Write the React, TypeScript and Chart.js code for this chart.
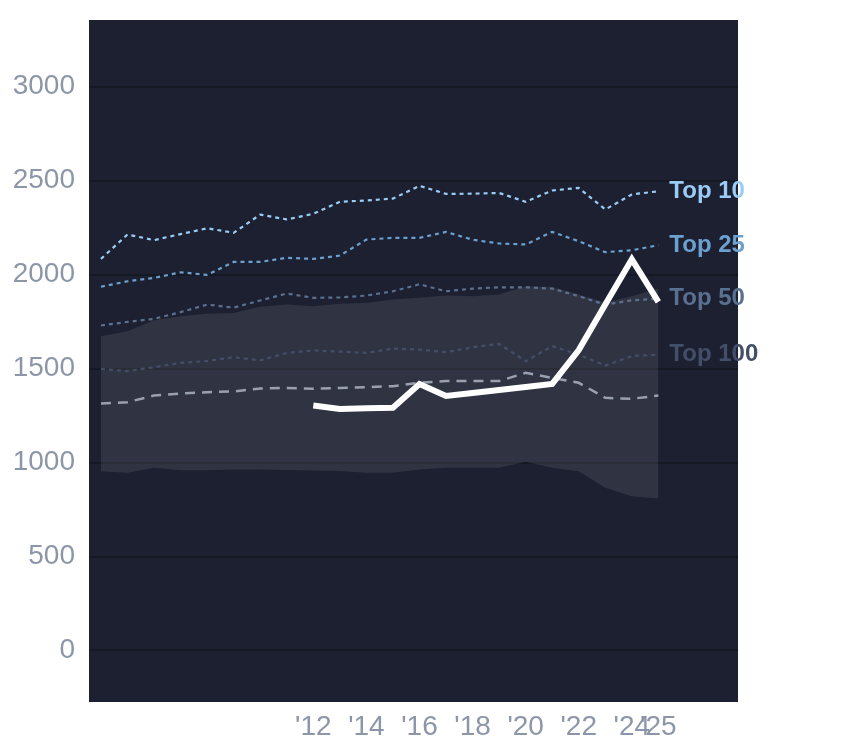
import { useEffect, useRef } from "react";
import { Chart, registerables } from "chart.js";

Chart.register(...registerables);

const years = [2004, 2005, 2006, 2007, 2008, 2009, 2010, 2011, 2012, 2013, 2014, 2015, 2016, 2017, 2018, 2019, 2020, 2021, 2022, 2023, 2024, 2025];
const top10 = [2083, 2213, 2183, 2215, 2246, 2222, 2319, 2293, 2323, 2387, 2394, 2404, 2472, 2429, 2430, 2434, 2387, 2447, 2461, 2346, 2426, 2443];
const top25 = [1935, 1964, 1982, 2012, 1998, 2067, 2067, 2089, 2083, 2101, 2186, 2195, 2195, 2227, 2185, 2165, 2160, 2227, 2177, 2119, 2129, 2156];
const top50 = [1729, 1748, 1764, 1800, 1840, 1824, 1862, 1899, 1876, 1878, 1888, 1911, 1948, 1911, 1925, 1932, 1932, 1925, 1885, 1840, 1863, 1871];
const top100 = [1498, 1486, 1507, 1530, 1540, 1560, 1543, 1583, 1596, 1590, 1583, 1606, 1601, 1587, 1613, 1631, 1539, 1619, 1574, 1516, 1566, 1574];
const median = [1314, 1321, 1356, 1367, 1374, 1378, 1394, 1397, 1392, 1397, 1401, 1406, 1425, 1433, 1433, 1433, 1477, 1450, 1424, 1344, 1339, 1356];
const bandLow = [954, 945, 972, 959, 959, 963, 963, 960, 958, 955, 945, 945, 963, 972, 972, 972, 1004, 972, 954, 866, 821, 809];
const bandHigh = [1672, 1698, 1757, 1778, 1791, 1796, 1828, 1840, 1831, 1845, 1848, 1867, 1876, 1888, 1884, 1894, 1938, 1934, 1894, 1851, 1885, 1926];

const currentYears = [2012, 2013, 2014, 2015, 2016, 2017, 2018, 2019, 2020, 2021, 2022, 2023, 2024, 2025];
const current = [1303, 1285, 1288, 1291, 1418, 1354, 1370, 1386, 1402, 1418, 1598, 1840, 2081, 1855];

const xTicks = [2012, 2014, 2016, 2018, 2020, 2022, 2024, 2025];
const yTicks = [0, 500, 1000, 1500, 2000, 2500, 3000];

const tierLabels = ["Top 10", "Top 25", "Top 50", "Top 100"];
const tierColors = ["#9acdf6", "#6ca0cf", "#5a7090", "#434e68"];

const FONT = "'Liberation Sans', Arial, sans-serif";
const PLOT_BG = "#1c2030";
const TICK_COLOR = "#8d96a8";

const pts = (xs: number[], ys: number[]) => xs.map((x, i) => ({ x, y: ys[i] }));

const plotBg = {
  id: "plotBg",
  beforeDraw(chart: Chart) {
    const { ctx, chartArea } = chart;
    ctx.save();
    ctx.fillStyle = PLOT_BG;
    ctx.fillRect(chartArea.left, chartArea.top, chartArea.right - chartArea.left, chartArea.bottom - chartArea.top);
    ctx.restore();
  },
};

// tier names next to the last point of each line
const endLabels = {
  id: "endLabels",
  afterDatasetsDraw(chart: Chart) {
    const { ctx } = chart;
    const xs = chart.scales.x;
    const ys = chart.scales.y;
    const series = [top10, top25, top50, top100];
    ctx.save();
    ctx.font = `bold 24px ${FONT}`;
    ctx.textAlign = "left";
    ctx.textBaseline = "middle";
    series.forEach((s, i) => {
      const x = xs.getPixelForValue(years[years.length - 1]) + 11;
      const y = ys.getPixelForValue(s[s.length - 1]);
      ctx.fillStyle = tierColors[i];
      ctx.fillText(tierLabels[i], x, y);
    });
    ctx.restore();
  },
};

export default function App() {
  const canvasRef = useRef<HTMLCanvasElement | null>(null);

  useEffect(() => {
    const canvas = canvasRef.current;
    if (!canvas) return;

    const dotted = (label: string, data: number[], color: string) => ({
      label,
      data: pts(years, data),
      borderColor: color,
      borderWidth: 2.2,
      borderDash: [4, 4],
      pointRadius: 0,
      fill: false,
      tension: 0,
    });

    const chart = new Chart(canvas, {
      type: "line",
      data: {
        datasets: [
          {
            label: "Current",
            data: pts(currentYears, current),
            borderColor: "#ffffff",
            borderWidth: 6,
            pointRadius: 0,
            fill: false,
          },
          {
            label: "Median",
            data: pts(years, median),
            borderColor: "#9aa1ae",
            borderWidth: 2.5,
            borderDash: [10, 7],
            pointRadius: 0,
            fill: false,
          },
          dotted("Top 10", top10, tierColors[0]),
          dotted("Top 25", top25, tierColors[1]),
          dotted("Top 50", top50, tierColors[2]),
          dotted("Top 100", top100, tierColors[3]),
          {
            label: "Low",
            data: pts(years, bandLow),
            borderWidth: 0,
            pointRadius: 0,
            fill: false,
          },
          {
            label: "High",
            data: pts(years, bandHigh),
            borderWidth: 0,
            pointRadius: 0,
            fill: "-1",
            backgroundColor: "rgba(255,255,255,0.09)",
          },
        ],
      },
      options: {
        animation: false,
        responsive: true,
        maintainAspectRatio: false,
        layout: { padding: { top: 12, right: 98, left: 0, bottom: 0 } },
        plugins: {
          legend: { display: false },
          tooltip: { enabled: false },
        },
        scales: {
          x: {
            type: "linear",
            min: 2003.55,
            max: 2028,
            afterBuildTicks: (s: any) => {
              s.ticks = xTicks.map((v) => ({ value: v }));
            },
            afterFit: (s: any) => {
              s.height = 38;
              s.paddingLeft = 0;
              s.paddingRight = 0;
            },
            grid: { display: false, drawTicks: false },
            border: { display: false },
            ticks: {
              autoSkip: false,
              maxRotation: 0,
              padding: 8,
              color: TICK_COLOR,
              font: { family: FONT, size: 28 },
              callback: (v: any) => "'" + String(v).slice(2),
            },
          },
          y: {
            min: -274,
            max: 3354,
            afterBuildTicks: (s: any) => {
              s.ticks = yTicks.map((v) => ({ value: v }));
            },
            afterFit: (s: any) => {
              s.width = 81;
              s.paddingTop = 0;
              s.paddingBottom = 0;
            },
            grid: { color: "#151923", lineWidth: 2, drawTicks: false },
            border: { display: false },
            ticks: {
              padding: 14,
              color: TICK_COLOR,
              font: { family: FONT, size: 28 },
              callback: (v: any) => String(v),
            },
          },
        },
      },
      plugins: [plotBg, endLabels],
    });

    return () => chart.destroy();
  }, []);

  return (
    <div style={{ position: "relative", width: 828, height: 732 }}>
      <canvas ref={canvasRef} />
    </div>
  );
}
